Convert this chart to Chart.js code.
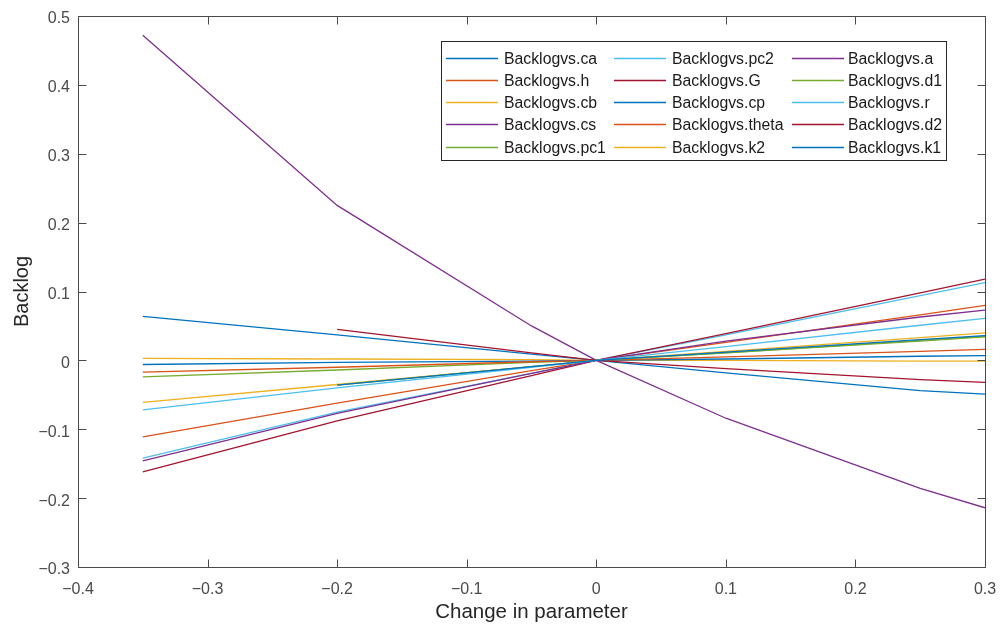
<!DOCTYPE html>
<html>
<head>
<meta charset="utf-8">
<script src="https://cdn.jsdelivr.net/npm/chart.js@4"></script>
<style>
  body { margin: 0; background: #fff; }
  canvas { display: block; }
</style>
</head>
<body>
<canvas id="grafico" width="1002" height="630"></canvas>
<script>
// valores del eje x (cambio en el parametro)
const changes = [-0.35, -0.2, -0.05, 0, 0.1, 0.25, 0.3];

const seriesNames = [
    'Backlogvs.ca', 'Backlogvs.h', 'Backlogvs.cb', 'Backlogvs.cs', 'Backlogvs.pc1',
    'Backlogvs.pc2', 'Backlogvs.G', 'Backlogvs.cp', 'Backlogvs.theta', 'Backlogvs.k2',
    'Backlogvs.a', 'Backlogvs.d1', 'Backlogvs.r', 'Backlogvs.d2', 'Backlogvs.k1'
];

// backlog por serie (null = sin dato en ese punto)
const ca    = [0.064, 0.037, 0.009, 0, -0.018, -0.044, -0.049];
const h     = [-0.111, -0.062, -0.015, 0, 0.026, 0.066, 0.080];
const cb    = [0.003, 0.002, 0.001, 0, 0.000, -0.001, -0.001];
const cs    = [0.472, 0.225, 0.050, 0, -0.084, -0.186, -0.214];
const pc1   = [-0.024, -0.014, -0.003, 0, 0.011, 0.028, 0.034];
const pc2   = [-0.142, -0.075, -0.019, 0, 0.037, 0.094, 0.113];
const G     = [-0.162, -0.088, -0.022, 0, 0.039, 0.098, 0.118];
const cp    = [-0.006, -0.003, -0.001, 0, 0.002, 0.006, 0.007];
const theta = [-0.017, -0.010, -0.002, 0, 0.005, 0.013, 0.016];
const k2    = [-0.061, -0.035, -0.009, 0, 0.013, 0.033, 0.040];
const a     = [-0.146, -0.077, -0.019, 0, 0.028, 0.063, 0.073];
const d1    = [null, -0.036, -0.009, 0, 0.011, 0.029, 0.035];
const r     = [-0.072, -0.040, -0.010, 0, 0.020, 0.051, 0.061];
const d2    = [null, 0.045, 0.011, 0, -0.012, -0.028, -0.032];
const k1    = [null, -0.036, -0.009, 0, 0.012, 0.030, 0.036];

const seriesValues = [ca, h, cb, cs, pc1, pc2, G, cp, theta, k2, a, d1, r, d2, k1];

const xTicks = [-0.4, -0.3, -0.2, -0.1, 0, 0.1, 0.2, 0.3];
const yTicks = [-0.3, -0.2, -0.1, 0, 0.1, 0.2, 0.3, 0.4, 0.5];

// orden de colores por defecto de MATLAB
const palette = ['#0072BD', '#D95319', '#EDB120', '#7E2F8E', '#77AC30', '#4DBEEE', '#A2142F'];
const axisColor = '#4a4a4a';
const fontFamily = '"Liberation Sans", Arial, sans-serif';

// MATLAB usa el signo menos real en las etiquetas
const fmt = v => Math.abs(v) < 1e-9 ? '0' : v.toFixed(1).replace('-', '\u2212');

// marco con ticks hacia adentro y leyenda en 3 columnas
const marcoPlugin = {
    id: 'marco',
    afterDatasetsDraw(chart) {
        const { ctx, chartArea: area, scales: { x, y } } = chart;
        ctx.save();
        ctx.strokeStyle = axisColor;
        ctx.lineWidth = 1;
        const L = Math.round(area.left) + 0.5, R = Math.round(area.right) + 0.5;
        const T = Math.round(area.top) + 0.5, B = Math.round(area.bottom) + 0.5;
        ctx.strokeRect(L, T, R - L, B - T);
        ctx.beginPath();
        const tick = 8;
        xTicks.forEach(v => {
            const px = Math.round(x.getPixelForValue(v)) + 0.5;
            ctx.moveTo(px, B); ctx.lineTo(px, B - tick);
            ctx.moveTo(px, T); ctx.lineTo(px, T + tick);
        });
        yTicks.forEach(v => {
            const py = Math.round(y.getPixelForValue(v)) + 0.5;
            ctx.moveTo(L, py); ctx.lineTo(L + tick, py);
            ctx.moveTo(R, py); ctx.lineTo(R - tick, py);
        });
        ctx.stroke();

        // leyenda
        const box = { left: 441.5, top: 41.5, width: 505, height: 119 };
        ctx.fillStyle = '#fff';
        ctx.fillRect(box.left, box.top, box.width, box.height);
        ctx.strokeStyle = '#262626';
        ctx.strokeRect(box.left, box.top, box.width, box.height);
        const colLine = [446, 614, 792];
        const colText = [504, 672, 848];
        ctx.font = '15.8px ' + fontFamily;
        ctx.textBaseline = 'middle';
        ctx.textAlign = 'left';
        seriesNames.forEach((name, i) => {
            const col = Math.floor(i / 5), row = i % 5;
            const yy = Math.round(57.7 + row * 22.25) + 0.5;
            ctx.strokeStyle = palette[i % palette.length];
            ctx.lineWidth = 1.3;
            ctx.beginPath();
            ctx.moveTo(colLine[col], yy);
            ctx.lineTo(colLine[col] + 52, yy);
            ctx.stroke();
            ctx.fillStyle = '#1a1a1a';
            ctx.fillText(name, colText[col], yy + 1);
        });
        ctx.restore();
    }
};

const datasets = seriesNames.map((name, i) => ({
    label: name,
    data: changes.map((c, j) => ({ x: c, y: seriesValues[i][j] })).filter(p => p.y !== null),
    borderColor: palette[i % palette.length],
    backgroundColor: palette[i % palette.length],
    borderWidth: 1.3,
    pointRadius: 0,
    tension: 0,
    fill: false,
    order: seriesNames.length - i
}));

const ctx = document.getElementById('grafico').getContext('2d');
new Chart(ctx, {
    type: 'line',
    data: { datasets },
    options: {
        responsive: false,
        animation: false,
        layout: { padding: { top: 16, right: 17, left: 0, bottom: 0 } },
        plugins: {
            legend: { display: false },
            tooltip: { enabled: false }
        },
        scales: {
            x: {
                type: 'linear',
                min: -0.4,
                max: 0.3,
                afterBuildTicks: s => { s.ticks = xTicks.map(v => ({ value: v })); },
                afterFit: s => { s.height = 63; s.paddingLeft = 0; s.paddingRight = 0; },
                grid: { display: false, drawTicks: false },
                border: { display: false },
                ticks: {
                    padding: 13,
                    maxRotation: 0,
                    autoSkip: false,
                    color: axisColor,
                    font: { family: fontFamily, size: 16 },
                    callback: v => fmt(v)
                },
                title: {
                    display: true,
                    text: 'Change in parameter',
                    color: '#262626',
                    font: { family: fontFamily, size: 20.5 },
                    padding: { top: 0, bottom: 5 }
                }
            },
            y: {
                type: 'linear',
                min: -0.3,
                max: 0.5,
                afterBuildTicks: s => { s.ticks = yTicks.map(v => ({ value: v })); },
                afterFit: s => { s.width = 78; s.paddingTop = 0; s.paddingBottom = 0; },
                grid: { display: false, drawTicks: false },
                border: { display: false },
                ticks: {
                    padding: 8,
                    labelOffset: 3,
                    color: axisColor,
                    font: { family: fontFamily, size: 16 },
                    callback: v => fmt(v)
                },
                title: {
                    display: true,
                    text: 'Backlog',
                    color: '#262626',
                    font: { family: fontFamily, size: 20 },
                    padding: { top: 10, bottom: 0 }
                }
            }
        }
    },
    plugins: [marcoPlugin]
});
</script>
</body>
</html>
